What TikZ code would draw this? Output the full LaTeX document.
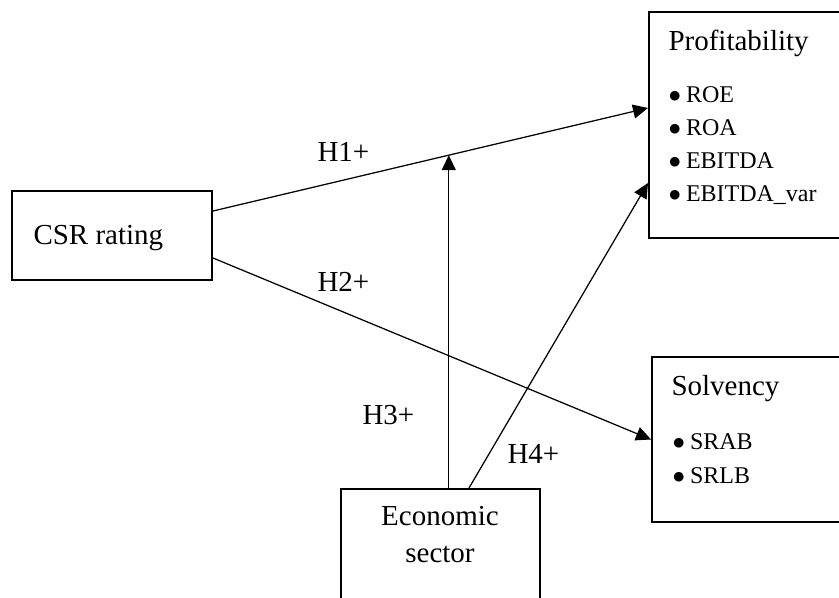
\documentclass[tikz,border=0pt]{standalone}
\usepackage{fontspec}
\setmainfont{Liberation Serif}
\usetikzlibrary{arrows.meta,calc}
\begin{document}
\begin{tikzpicture}[x=0.4pt,y=-0.4pt,
  box/.style={draw,line width=0.8pt,minimum width=80pt},
  lbl/.style={font=\fontsize{11.6}{14}\selectfont,inner sep=0pt},
  item/.style={font=\fontsize{9.6}{12}\selectfont,inner sep=0pt,anchor=base west},
  link/.style={line width=0.5pt,-{Triangle[length=6pt,width=5.6pt]}}]
\useasboundingbox (0,0) rectangle (839,598);
\clip (0,0) rectangle (839,598);
\node[box,minimum height=35.6pt] (csr) at (112,235.5) {};
\node[box,minimum height=90.4pt] (prof) at (749,125) {};
\node[box,minimum height=66pt] (solv) at (752,439.5) {};
\node[box,minimum width=79.6pt,minimum height=52.4pt] (econ) at (440.5,554.5) {};
\node[lbl,anchor=base west] (csrtxt) at (33,245) {CSR rating};
\node[lbl,anchor=base west] (proftxt) at ($(prof.north west)+(20,40)$) {Profitability};
\foreach \v [count=\i] in {ROE,ROA,EBITDA,EBITDA\_var}
  \node[item] (prof\i) at ($(prof.north west)+(20,59+33*\i)$) {$\bullet$\hspace{2pt}\v};
\node[lbl,anchor=base west] (solvtxt) at ($(solv.north west)+(20,40)$) {Solvency};
\foreach \v [count=\i] in {SRAB,SRLB}
  \node[item] (solv\i) at ($(solv.north west)+(21,60+34*\i)$) {$\bullet$\hspace{2pt}\v};
\node[lbl,anchor=base] (econtxt1) at (440,525) {Economic};
\node[lbl,anchor=base] (econtxt2) at (440,562) {sector};
\draw[link] ($(csr.east)+(0,-24.5)$) -- ($(prof.west)+(0,-17)$) coordinate[pos=0.542] (h1m);
\draw[link] ($(csr.east)+(0,22.5)$) -- (solv.west);
\draw[link] (h1m |- econ.north) -- (h1m);
\draw[link] ($(econ.north)+(28.5,0)$) -- ($(prof.west)+(0,58)$);
\node[lbl,anchor=base west] (h1) at (317,162) {H1+};
\node[lbl,anchor=base west] (h2) at (317,292) {H2+};
\node[lbl,anchor=base west] (h3) at (362,425) {H3+};
\node[lbl,anchor=base west] (h4) at (507,463) {H4+};
\end{tikzpicture}
\end{document}
